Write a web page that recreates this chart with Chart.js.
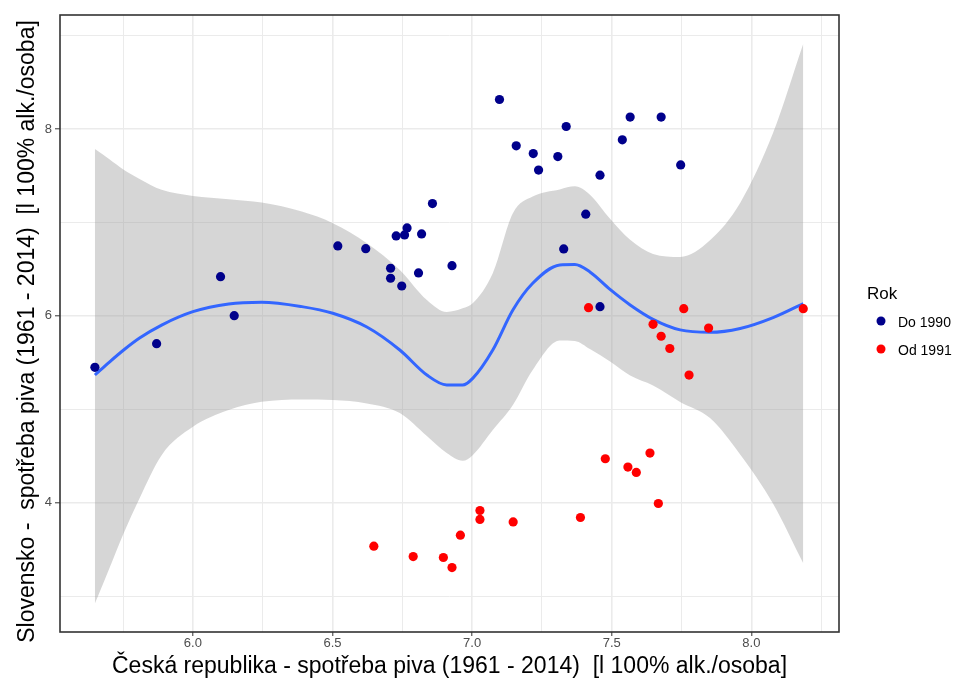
<!DOCTYPE html>
<html>
<head>
<meta charset="utf-8">
<script src="https://cdn.jsdelivr.net/npm/chart.js@4/dist/chart.umd.min.js"></script>
<style>
  html, body { margin: 0; padding: 0; background: #ffffff; }
  #wrap { width: 955px; height: 683px; }
</style>
</head>
<body>
<div id="wrap"><canvas id="c" width="955" height="683"></canvas></div>
<script>
// Beer consumption, Czech Republic (x) vs Slovakia (y), litres of pure alcohol per person
const doLabel = 'Do 1990';
const doX = [5.649, 5.870, 6.099, 6.148, 6.519, 6.619, 6.708, 6.708, 6.748, 6.728,
             6.758, 6.767, 6.819, 6.808, 6.858, 6.928, 7.158, 7.219, 7.238, 7.098,
             7.307, 7.337, 7.566, 7.677, 7.538, 7.458, 7.747, 7.407, 7.328, 7.458];
const doY = [5.449, 5.702, 6.420, 6.002, 6.749, 6.720, 6.510, 6.403, 6.320, 6.856,
             6.867, 6.942, 6.878, 6.460, 7.203, 6.538, 7.821, 7.738, 7.561, 8.317,
             7.706, 8.028, 8.129, 8.129, 7.885, 7.507, 7.617, 7.089, 6.717, 6.099];

const odLabel = 'Od 1991';
const odX = [7.417, 7.758, 8.186, 7.648, 7.847, 7.677, 7.708, 7.777, 7.477, 7.558, 7.588,
             7.637, 7.667, 7.388, 7.147, 7.028, 7.028, 6.958, 6.648, 6.789, 6.897, 6.928];
const odY = [6.088, 6.077, 6.077, 5.910, 5.870, 5.782, 5.651, 5.366, 4.470, 4.381, 4.324,
             4.531, 3.991, 3.841, 3.794, 3.916, 3.820, 3.652, 3.534, 3.423, 3.413, 3.305];

// Loess smooth with its confidence band
const fitX  = [5.649, 5.701, 5.752, 5.809, 5.888, 6.000, 6.128, 6.246, 6.390, 6.501,
               6.623, 6.741, 6.838, 6.909, 6.966, 7.002, 7.074, 7.146, 7.217, 7.314,
               7.368, 7.422, 7.494, 7.566, 7.648, 7.745, 7.852, 7.960, 8.078, 8.186];
const fitY  = [5.367, 5.506, 5.635, 5.763, 5.902, 6.045, 6.128, 6.146, 6.099, 6.028,
               5.881, 5.635, 5.367, 5.260, 5.260, 5.331, 5.635, 6.063, 6.349, 6.546,
               6.551, 6.471, 6.283, 6.117, 5.963, 5.850, 5.824, 5.865, 5.982, 6.132];
const fitHi = [7.786, 7.676, 7.564, 7.467, 7.350, 7.285, 7.250, 7.213, 7.117, 6.993,
               6.778, 6.492, 6.170, 6.042, 6.081, 6.135, 6.457, 7.100, 7.278, 7.354,
               7.387, 7.296, 7.039, 6.814, 6.663, 6.631, 6.810, 7.210, 7.960, 8.914];
const fitLo = [2.920, 3.298, 3.673, 4.048, 4.509, 4.812, 4.991, 5.080, 5.106, 5.099,
               5.063, 4.959, 4.713, 4.531, 4.448, 4.509, 4.777, 5.045, 5.420, 5.737,
               5.731, 5.645, 5.511, 5.361, 5.254, 5.079, 4.906, 4.516, 3.989, 3.350];

// Axis ticks
const xMajor = [6.0, 6.5, 7.0, 7.5, 8.0];
const xMinor = [5.75, 6.25, 6.75, 7.25, 7.75, 8.25];
const yMajor = [4, 6, 8];
const yMinor = [3, 5, 7, 9];

const xTitle = 'Česká republika - spotřeba piva (1961 - 2014)  [l 100% alk./osoba]';
const yTitle = 'Slovensko -  spotřeba piva (1961 - 2014)  [l 100% alk./osoba]';
const legendTitle = 'Rok';

const FONT = '"Liberation Sans", Arial, Helvetica, sans-serif';
const GRID = '#EBEBEB';
const INK = '#333333';

const pts = (xs, ys) => xs.map((x, i) => ({ x: x, y: ys[i] }));
const tickSet = (minor, major) => minor.concat(major).sort((a, b) => a - b).map(v => ({ value: v }));
const isMajor = (list, v) => list.some(m => Math.abs(m - v) < 1e-9);

// Full panel border drawn over everything
const panelBorder = {
  id: 'panelBorder',
  afterDraw(chart) {
    const { ctx, chartArea: a } = chart;
    ctx.save();
    ctx.strokeStyle = INK;
    ctx.lineWidth = 1.6;
    ctx.strokeRect(a.left, a.top, a.right - a.left, a.bottom - a.top);
    ctx.restore();
  }
};

// Vertical axis title, rotated, left of the tick labels
const yAxisTitle = {
  id: 'yAxisTitle',
  afterDraw(chart) {
    const { ctx, chartArea: a } = chart;
    ctx.save();
    ctx.translate(28, (a.top + a.bottom) / 2 + 8);
    ctx.rotate(-Math.PI / 2);
    ctx.fillStyle = '#000000';
    ctx.font = '23px ' + FONT;
    ctx.textAlign = 'center';
    ctx.textBaseline = 'middle';
    ctx.fillText(yTitle, 0, 0);
    ctx.restore();
  }
};

// Legend to the right of the panel
const rokLegend = {
  id: 'rokLegend',
  afterDraw(chart) {
    const { ctx, chartArea: a } = chart;
    const cy = (a.top + a.bottom) / 2;
    ctx.save();
    ctx.fillStyle = '#000000';
    ctx.textAlign = 'left';
    ctx.textBaseline = 'alphabetic';
    ctx.font = '17px ' + FONT;
    ctx.fillText(legendTitle, a.right + 28, cy - 24.5);
    const items = chart.data.datasets.filter(d => d.inLegend);
    items.forEach((d, i) => {
      const y = cy - 2.5 + i * 28;
      ctx.beginPath();
      ctx.arc(a.right + 42, y, 4.5, 0, Math.PI * 2);
      ctx.fillStyle = d.backgroundColor;
      ctx.fill();
      ctx.fillStyle = '#000000';
      ctx.font = '14px ' + FONT;
      ctx.fillText(d.label, a.right + 59, y + 5.5);
    });
    ctx.restore();
  }
};

new Chart(document.getElementById('c'), {
  type: 'scatter',
  data: {
    datasets: [
      { label: doLabel, inLegend: true, data: pts(doX, doY), backgroundColor: '#00008B',
        borderWidth: 0, pointRadius: 4.6, order: 0 },
      { label: odLabel, inLegend: true, data: pts(odX, odY), backgroundColor: '#FF0000',
        borderWidth: 0, pointRadius: 4.6, order: 0 },
      { label: 'loess', data: pts(fitX, fitY), showLine: true, borderColor: '#3366FF',
        borderWidth: 3, pointRadius: 0, cubicInterpolationMode: 'monotone', fill: false, order: 1 },
      { label: 'upper', data: pts(fitX, fitHi), showLine: true, borderColor: 'rgba(0,0,0,0)',
        borderWidth: 0, pointRadius: 0, cubicInterpolationMode: 'monotone',
        fill: '+1', backgroundColor: 'rgba(153,153,153,0.4)', order: 2 },
      { label: 'lower', data: pts(fitX, fitLo), showLine: true, borderColor: 'rgba(0,0,0,0)',
        borderWidth: 0, pointRadius: 0, cubicInterpolationMode: 'monotone', fill: false, order: 2 }
    ]
  },
  options: {
    responsive: false,
    animation: false,
    devicePixelRatio: 1,
    events: [],
    layout: { padding: { top: 15, right: 116, bottom: 0, left: 0 } },
    plugins: {
      legend: { display: false },
      tooltip: { enabled: false }
    },
    scales: {
      x: {
        type: 'linear',
        min: 5.524,
        max: 8.314,
        afterBuildTicks: (s) => { s.ticks = tickSet(xMinor, xMajor); },
        afterFit: (s) => { s.height = 51; },
        border: { display: false },
        grid: {
          color: GRID,
          lineWidth: (c) => (c.tick && isMajor(xMajor, c.tick.value)) ? 1.6 : 1,
          drawTicks: true,
          tickLength: 4,
          tickWidth: 1,
          tickColor: (c) => (c.tick && isMajor(xMajor, c.tick.value)) ? INK : 'rgba(0,0,0,0)'
        },
        ticks: {
          autoSkip: false,
          maxRotation: 0,
          padding: 0,
          color: '#4D4D4D',
          font: { family: FONT, size: 13 },
          callback: (v) => isMajor(xMajor, v) ? Number(v).toFixed(1) : ''
        },
        title: {
          display: true,
          text: xTitle,
          color: '#000000',
          font: { family: FONT, size: 23 },
          padding: 3
        }
      },
      y: {
        type: 'linear',
        min: 2.615,
        max: 9.222,
        afterBuildTicks: (s) => { s.ticks = tickSet(yMinor, yMajor); },
        afterFit: (s) => { s.width = 60; },
        border: { display: false },
        grid: {
          color: GRID,
          lineWidth: (c) => (c.tick && isMajor(yMajor, c.tick.value)) ? 1.6 : 1,
          drawTicks: true,
          tickLength: 5,
          tickWidth: 1,
          tickColor: (c) => (c.tick && isMajor(yMajor, c.tick.value)) ? INK : 'rgba(0,0,0,0)'
        },
        ticks: {
          autoSkip: false,
          padding: 3,
          color: '#4D4D4D',
          font: { family: FONT, size: 13 },
          callback: (v) => isMajor(yMajor, v) ? String(v) : ''
        },
        title: { display: false }
      }
    }
  },
  plugins: [panelBorder, yAxisTitle, rokLegend]
});
</script>
</body>
</html>
